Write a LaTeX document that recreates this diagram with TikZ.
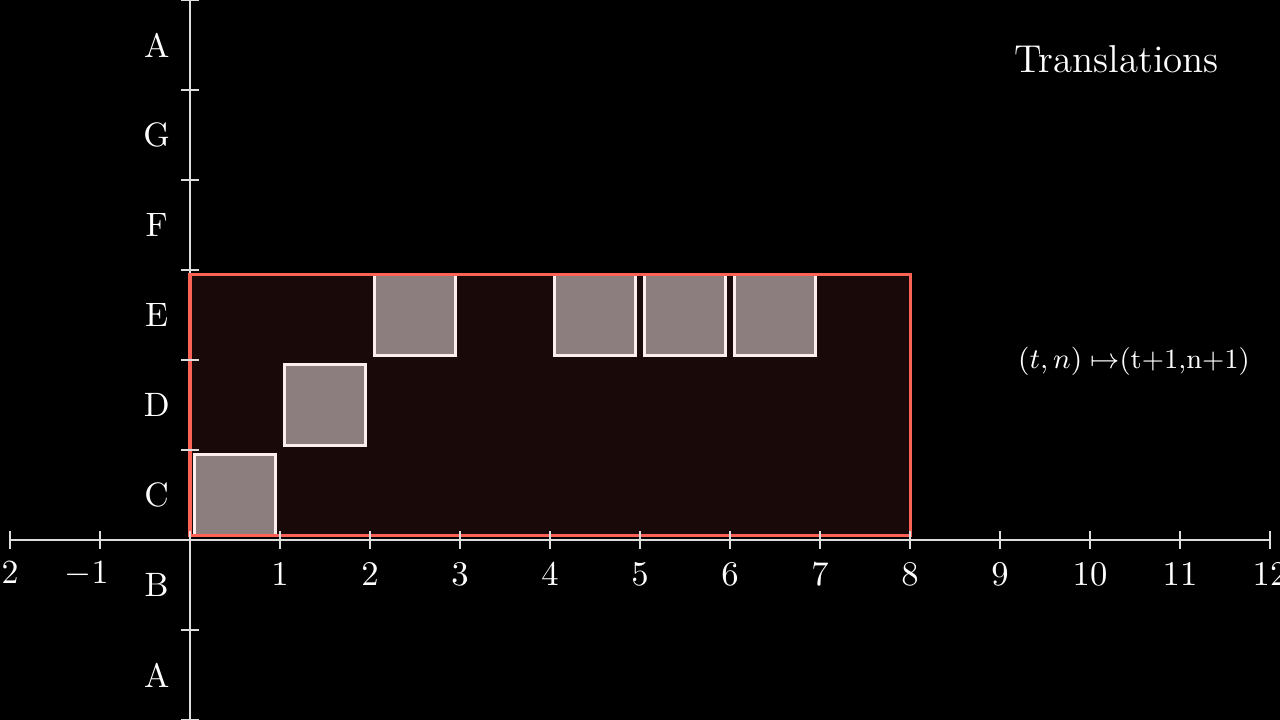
\documentclass[tikz,border=0pt]{standalone}
\usepackage{amsmath}
\begin{document}
\begin{tikzpicture}[
  axis/.style={draw=axisgray, line width=0.65pt},
  tick/.style={draw=axisgray, line width=0.65pt},
  numlab/.style={text=white, font=\fontsize{10.7}{12}\selectfont, inner sep=0pt},
  letlab/.style={text=white, font=\fontsize{10.7}{12}\selectfont, inner sep=0pt},
  sq/.style={draw=sqedge, fill=sqfill, line width=1.05pt, minimum size=0.9cm, inner sep=0pt, outer sep=0pt},
]
\definecolor{axisgray}{HTML}{DDDDDD}
\definecolor{redline}{HTML}{FC6255}
\definecolor{redfill}{HTML}{190A09}
\definecolor{sqfill}{HTML}{8C7E7E}
\definecolor{sqedge}{HTML}{FDEEEE}
% background
\fill[black] (-2.1111,-2) rectangle (12.1111,6);
\useasboundingbox (-2.1111,-2) rectangle (12.1111,6);
% axes
\coordinate (xl) at (-2,0);
\coordinate (xr) at (12,0);
\coordinate (yb) at (0,-2);
\coordinate (yt) at (0,6);
\draw[axis] (xl) -- (xr);
\draw[axis] (yb) -- (yt);
% red region fill
\fill[redfill] (0,0.05) rectangle (8,2.95);
% squares
\node[sq] (s1) at (0.5,0.5) {};
\node[sq] (s2) at (1.5,1.5) {};
\node[sq] (s3) at (2.5,2.5) {};
\node[sq] (s4) at (4.5,2.5) {};
\node[sq] (s5) at (5.5,2.5) {};
\node[sq] (s6) at (6.5,2.5) {};
% red region border
\node[draw=redline, line width=0.95pt, minimum width=8cm, minimum height=2.9cm, inner sep=0pt, outer sep=0pt] (region) at (4,1.5) {};
% x ticks and labels
\foreach \i in {-2,...,12}{
  \draw[tick] (\i,-0.1) -- (\i,0.1);
}
\foreach \i in {-2,-1}{
  \node[numlab] (xn\i) at (\i,-0.378) {\llap{$-$}\number-\i};
}
\foreach \i in {1,...,12}{
  \node[numlab] (xp\i) at (\i,-0.378) {$\i$};
}
% y ticks
\foreach \j in {-2,-1,1,2,3,4,5,6}{
  \draw[tick] (-0.1,\j) -- (0.1,\j);
}
% letter labels
\node[letlab] (lA1) at (-0.37,-1.5) {A};
\node[letlab] (lB) at (-0.37,-0.5) {B};
\node[letlab] (lC) at (-0.37,0.5) {C};
\node[letlab] (lD) at (-0.37,1.5) {D};
\node[letlab] (lE) at (-0.37,2.5) {E};
\node[letlab] (lF) at (-0.37,3.5) {F};
\node[letlab] (lG) at (-0.37,4.5) {G};
\node[letlab] (lA2) at (-0.37,5.5) {A};
% title and formula
\node[text=white, font=\fontsize{12.3}{14}\selectfont, anchor=base, inner sep=0pt] (title) at (10.294,5.189) {Translations};
\node[text=white, font=\fontsize{8.8}{11}\selectfont, anchor=base, inner sep=0pt] (formula) at (10.489,1.911) {$(t,n)\mapsto$(t+1,n+1)};
\end{tikzpicture}
\end{document}
